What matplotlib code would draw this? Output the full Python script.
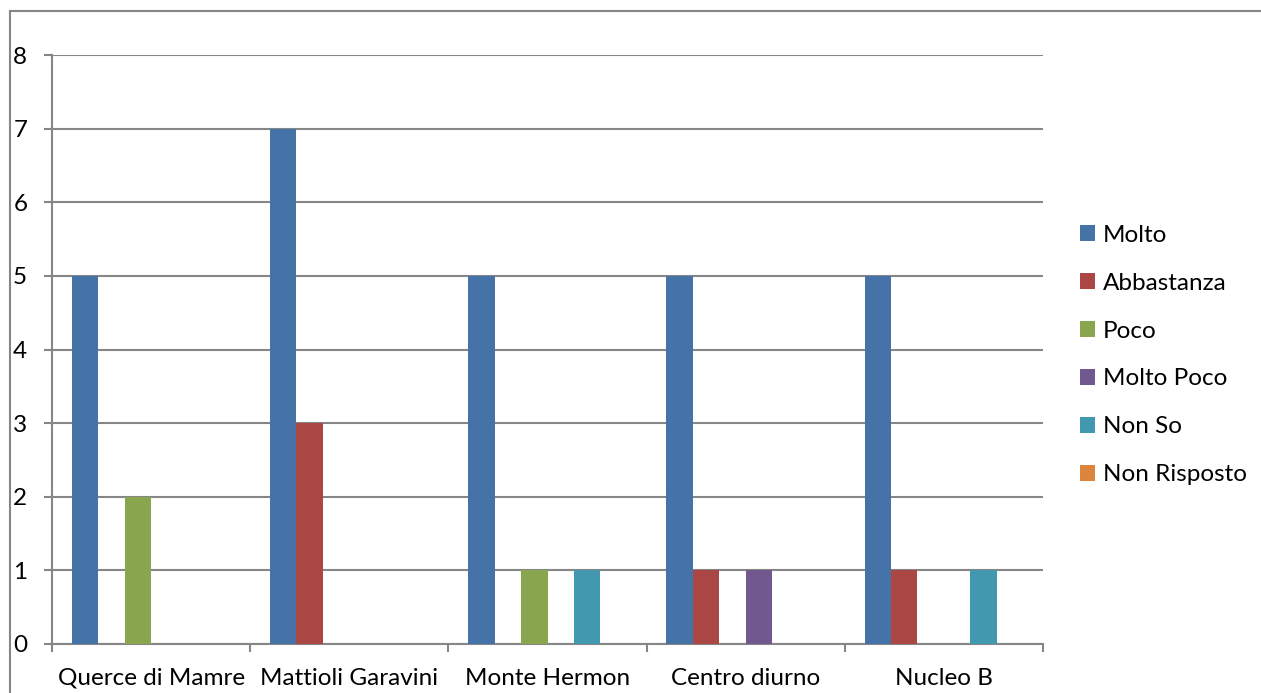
import matplotlib
matplotlib.use("Agg")
import matplotlib.pyplot as plt
from matplotlib.lines import Line2D
from matplotlib.patches import Patch
import numpy as np

categories = ["Querce di Mamre", "Mattioli Garavini", "Monte Hermon", "Centro diurno", "Nucleo B"]
series_names = ["Molto", "Abbastanza", "Poco", "Molto Poco", "Non So", "Non Risposto"]
molto = [5, 7, 5, 5, 5]
abbastanza = [0, 3, 0, 1, 1]
poco = [2, 0, 1, 0, 0]
molto_poco = [0, 0, 0, 1, 0]
non_so = [0, 0, 1, 0, 1]
non_risposto = [0, 0, 0, 0, 0]
series_values = [molto, abbastanza, poco, molto_poco, non_so, non_risposto]
colors = ["#4572A7", "#AA4643", "#89A54E", "#71588F", "#4198AF", "#DB843D"]

plt.rcParams["font.family"] = ["Lato", "DejaVu Sans"]
plt.rcParams["font.size"] = 17.5

fig = plt.figure(figsize=(12.61, 6.93), dpi=100)
ax = fig.add_axes([52 / 1261, 49 / 693, 991 / 1261, 589 / 693])

grid_col = "#868686"
n = len(series_names)
width = 1 / (n + 1.5)
x = np.arange(len(categories))
for k, (vals, col) in enumerate(zip(series_values, colors)):
    ax.bar(x + (k - (n - 1) / 2) * width, vals, width, color=col, zorder=3)

ax.set_xlim(-0.5, len(categories) - 0.5)
ax.set_ylim(0, 8)
ax.set_yticks(range(0, 9))
ax.yaxis.grid(True, color=grid_col, linewidth=1.5, zorder=0)
ax.tick_params(axis="y", length=5.8, width=1.5, color=grid_col, pad=12)
ax.set_xticks(x)
ax.set_xticklabels(categories)
ax.tick_params(axis="x", which="major", length=0, pad=17)
ax.set_xticks(np.arange(-0.5, len(categories)), minor=True)
ax.tick_params(axis="x", which="minor", length=5.8, width=1.5, color=grid_col)
for s in ["top", "right"]:
    ax.spines[s].set_visible(False)
for s in ["left", "bottom"]:
    ax.spines[s].set_color(grid_col)
    ax.spines[s].set_linewidth(1.5)

handles = [Patch(facecolor=c, edgecolor="none") for c in colors]
fig.legend(handles, series_names, loc="center left", bbox_to_anchor=(1058 / 1261, 1 - 355 / 693),
           frameon=False, handlelength=0.62, handleheight=0.62, handletextpad=0.33,
           labelspacing=1.11, fontsize=17.5)

# outer chart border
fig.add_artist(Line2D([10 / 1261, 10 / 1261], [0, 1 - 11 / 693], color=grid_col, linewidth=1.5))
fig.add_artist(Line2D([10 / 1261, 1], [1 - 11 / 693, 1 - 11 / 693], color=grid_col, linewidth=1.5))

fig.savefig("out.png", dpi=100, facecolor="white")
